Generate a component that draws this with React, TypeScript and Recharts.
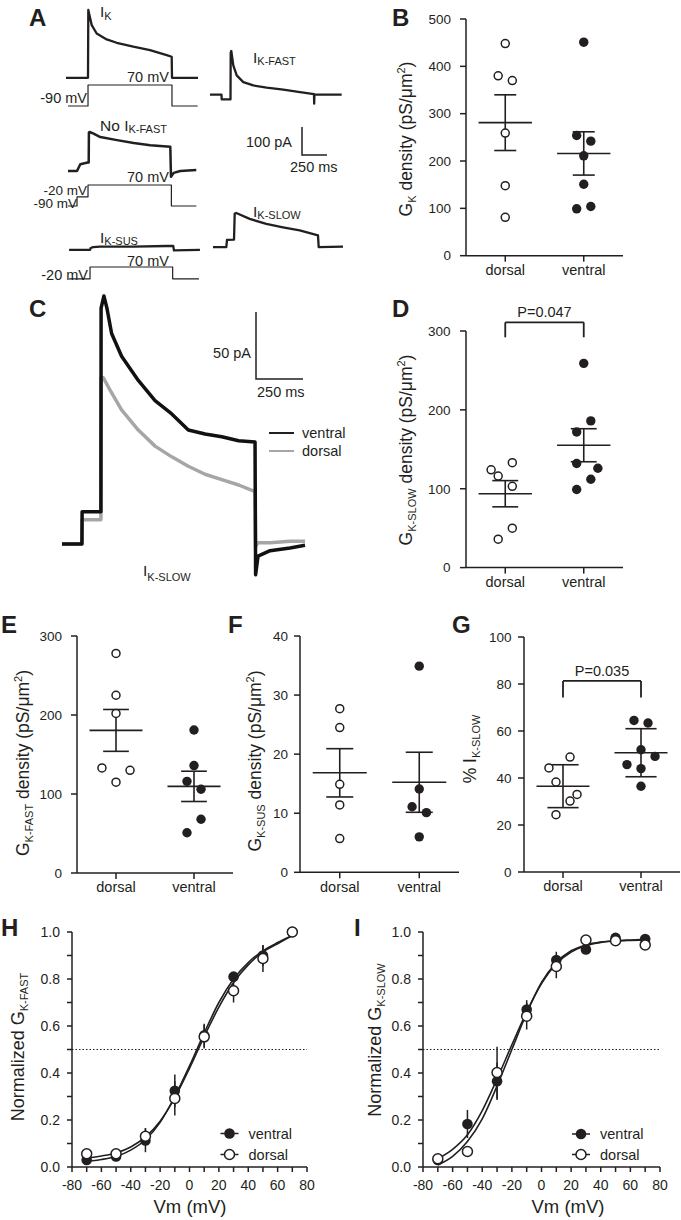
import {
  ComposedChart,
  ScatterChart,
  LineChart,
  Line,
  Scatter,
  XAxis,
  YAxis,
  ReferenceLine,
  ErrorBar,
} from 'recharts'

const FONT = '"Liberation Sans", Arial, Helvetica, sans-serif'
const INK = '#231f20'
const GREY = '#a6a6a6'

const groups = ['dorsal', 'ventral']

// ---------- A: example currents (ms, pA) and command steps (ms, mV)
const ikT = [0, 220, 223, 257, 307, 407, 507, 673, 840, 1007, 1057, 1060, 1320]
const ikI = [0, 0, 242, 188, 158, 137, 125, 111, 99, 81, 75, 0, 0]
const ikStepT = [20, 220, 220, 1060, 1060, 1317]
const ikStepV = [-90, -90, 70, 70, -90, -90]

const fastT = [0, 115, 117, 205, 207, 213, 233, 267, 333, 433, 567, 733, 900, 1040, 1042, 1044, 1317]
const fastI = [0, 0, -17, -17, 150, 156, 105, 69, 45, 33, 25, 18, 9, 2, -32, 0, 0]

const noFastT = [0, 90, 123, 197, 207, 209, 216, 256, 323, 490, 657, 823, 1023, 1030, 1057, 1123, 1283]
const noFastI = [1, 1, 25, 31, 31, 138, 140, 134, 122, 111, 101, 93, 87, -20, -6, 1, 4]
const noFastStepT = [6, 96, 96, 206, 206, 1040, 1040, 1290]
const noFastStepV = [-90, -90, -20, -20, 70, 70, -90, -90]

const susT = [0, 210, 217, 240, 310, 643, 977, 1043, 1050, 1310]
const susI = [0, 0, 7, 10, 12, 12, 14, 14, -2, 0]
const susStepT = [0, 210, 210, 1037, 1037, 1300]
const susStepV = [-20, -20, 70, 70, -20, -20]

const slowT = [0, 133, 140, 210, 217, 233, 367, 533, 700, 867, 1050, 1057, 1300]
const slowI = [0, 0, 26, 27, 120, 122, 101, 83, 71, 60, 42, 0, 2]

// ---------- C: mean I_K-SLOW, ventral vs dorsal (ms, pA)
const cVentralT = [0, 106, 107, 207, 208, 223, 239, 264, 317, 406, 495, 584, 672, 761, 850, 940, 1027, 1030, 1043, 1107, 1213, 1293]
const cVentralI = [0, 0, 24, 24, 176, 185, 176, 157, 140, 122, 107, 97, 85, 82, 80, 77, 76, -23, -9, -5, -3, -1]
const cDorsalT = [0, 106, 107, 207, 208, 220, 255, 317, 406, 495, 584, 672, 761, 850, 940, 1027, 1030, 1043, 1107, 1213, 1293]
const cDorsalI = [0, 0, 18, 18, 124, 124, 115, 100, 85, 73, 65, 58, 52, 48, 44, 39, -2, 1, 1, 2, 2]

// ---------- B, D, E, F, G: single cells (jitter in dot steps)
const gkDorsal = [448, 380, 370, 259, 148, 81]
const gkDorsalJit = [0, -1, 1, 0, 0, 0]
const gkVentral = [451, 254, 242, 211, 151, 99, 104]
const gkVentralJit = [0, -1, 1, 0, 0, -1, 1]
const gkTicks = [0, 100, 200, 300, 400, 500]

const slowDorsal = [133, 124, 116, 103, 50, 36]
const slowDorsalJit = [1, -2, -1, 1, 1, -1]
const slowVentral = [259, 186, 172, 132, 126, 112, 99]
const slowVentralJit = [0, 1, -1, -1, 2, 1, -1]
const slowTicks = [0, 100, 200, 300]

const fastDorsal = [278, 225, 202, 133, 130, 115]
const fastDorsalJit = [0, 0, 0, -2, 2, 0]
const fastVentral = [181, 136, 116, 106, 68, 51]
const fastVentralJit = [0, 0, -1, 1, 1, -1]
const fastTicks = [0, 100, 200, 300]

const susDorsal = [27.7, 24.5, 14.9, 11.4, 5.7]
const susDorsalJit = [0, 0, 0, 0, 0]
const susVentral = [34.9, 14.1, 11.1, 10.1, 6.0]
const susVentralJit = [0, 0, -1, 1, 0]
const susTicks = [0, 10, 20, 30, 40]

const pctDorsal = [48.9, 44.3, 38.3, 33, 30.2, 24.4]
const pctDorsalJit = [1, -2, -1, 2, 1, -1]
const pctVentral = [64.5, 63.4, 52, 49.2, 45.7, 44, 36.5]
const pctVentralJit = [-1, 1, 0, 2, -2, 0, 0]
const pctTicks = [0, 20, 40, 60, 80, 100]

// ---------- H, I: activation curves
const vmSteps = [-70, -50, -30, -10, 10, 30, 50, 70]
const fitVm = [-70, -60, -50, -40, -30, -20, -10, 0, 10, 20, 30, 40, 50, 60, 70]
const vmTicks = [-80, -70, -60, -50, -40, -30, -20, -10, 0, 10, 20, 30, 40, 50, 60, 70, 80]
const gTicks = [0, 0.1, 0.2, 0.3, 0.4, 0.5, 0.6, 0.7, 0.8, 0.9, 1.0]

const hVentral = [0.03, 0.045, 0.113, 0.324, 0.56, 0.81, 0.9, 1.0]
const hVentralErr = [0.008, 0.01, 0.05, 0.07, 0.05, 0.02, 0.045, 0]
const hDorsal = [0.056, 0.056, 0.131, 0.292, 0.554, 0.75, 0.887, 1.0]
const hDorsalErr = [0.008, 0.01, 0.035, 0.073, 0.05, 0.05, 0.057, 0]
const hFitVentral = [0.024, 0.032, 0.045, 0.072, 0.116, 0.19, 0.3, 0.43, 0.57, 0.7, 0.8, 0.87, 0.92, 0.955, 0.985]
const hFitDorsal = [0.038, 0.047, 0.06, 0.085, 0.128, 0.195, 0.295, 0.42, 0.555, 0.68, 0.785, 0.86, 0.915, 0.95, 0.985]

const iVentral = [0.03, 0.183, 0.365, 0.67, 0.881, 0.926, 0.975, 0.97]
const iVentralErr = [0.005, 0.06, 0.08, 0.04, 0.035, 0.015, 0.01, 0.01]
const iDorsal = [0.035, 0.066, 0.402, 0.642, 0.853, 0.966, 0.963, 0.945]
const iDorsalErr = [0.005, 0.01, 0.11, 0.057, 0.05, 0.01, 0.01, 0.01]
const iFitVentral = [0.035, 0.075, 0.137, 0.24, 0.375, 0.52, 0.66, 0.78, 0.865, 0.915, 0.942, 0.956, 0.963, 0.966, 0.968]
const iFitDorsal = [0.008, 0.045, 0.108, 0.205, 0.345, 0.5, 0.655, 0.785, 0.87, 0.92, 0.945, 0.957, 0.962, 0.964, 0.965]

const JIT = 0.09
const MV_PX = 7.62

function summary(vals: number[], spread: 'sem' | 'sd') {
  const m = vals.reduce((a, b) => a + b, 0) / vals.length
  const sd = Math.sqrt(vals.reduce((a, b) => a + (b - m) ** 2, 0) / (vals.length - 1))
  return { m, e: spread === 'sd' ? sd : sd / Math.sqrt(vals.length) }
}

// chart box around a plot rectangle given in page pixels
function frame(plot: number[]) {
  const [x0, y0, x1, y1] = plot
  return {
    style: { position: 'absolute' as const, left: x0 - 60, top: y0 - 40 },
    width: x1 - x0 + 80,
    height: y1 - y0 + 80,
    margin: { top: 40, right: 20, bottom: 10, left: 20 },
  }
}

const openDot = (r: number) => (p: any) =>
  <circle cx={p.cx} cy={p.cy} r={r} fill="#fff" stroke={INK} strokeWidth={1.5} />
const filledDot = (r: number) => (p: any) =>
  <circle cx={p.cx} cy={p.cy} r={r + 0.7} fill={INK} />

type TraceSeries = { t: number[]; v: number[]; color: string; width: number }

function Trace({ x0, y0, msPx, unitPx, series }: { x0: number; y0: number; msPx: number; unitPx: number; series: TraceSeries[] }) {
  const ts = series.flatMap((s) => s.t)
  const vs = series.flatMap((s) => s.v)
  const tMin = Math.min(...ts), tMax = Math.max(...ts)
  const vMin = Math.min(...vs), vMax = Math.max(...vs)
  const left = x0 + tMin / msPx
  const right = x0 + tMax / msPx
  const top = y0 - vMax / unitPx
  const bottom = y0 - vMin / unitPx
  const pad = 4
  return (
    <div style={{ position: 'absolute', left: left - pad, top: top - pad }}>
      <LineChart width={right - left + 2 * pad} height={bottom - top + 2 * pad} margin={{ top: pad, right: pad, bottom: pad, left: pad }}>
        <XAxis type="number" dataKey="t" domain={[tMin, tMax]} hide />
        <YAxis type="number" domain={[vMin, vMax]} hide />
        {series.map((s, i) => (
          <Line
            key={i}
            data={s.t.map((t, k) => ({ t, y: s.v[k] }))}
            dataKey="y"
            type="linear"
            stroke={s.color}
            strokeWidth={s.width}
            strokeLinejoin="round"
            dot={false}
            isAnimationActive={false}
          />
        ))}
      </LineChart>
    </div>
  )
}

// page y of 0 mV when `value` sits at page y `py`
const zeroAt = (value: number, py: number, unitPx: number) => py + value / unitPx

type DotProps = {
  plot: number[]
  ticks: number[]
  dorsal: number[]
  dorsalJit: number[]
  ventral: number[]
  ventralJit: number[]
  spread: 'sem' | 'sd'
  cap: number
  tickGap: number
  pValue?: { text: string; lo: number; hi: number }
}

function DotPanel({ plot, ticks, dorsal, dorsalJit, ventral, ventralJit, spread, cap, tickGap, pValue }: DotProps) {
  const f = frame(plot)
  const stats = [summary(dorsal, spread), summary(ventral, spread)]
  const segs: { x: number; y: number }[][] = []
  stats.forEach((s, i) => {
    const c = i + 1
    segs.push([{ x: c - 0.34, y: s.m }, { x: c + 0.34, y: s.m }])
    segs.push([{ x: c, y: s.m - s.e }, { x: c, y: s.m + s.e }])
    segs.push([{ x: c - cap, y: s.m + s.e }, { x: c + cap, y: s.m + s.e }])
    segs.push([{ x: c - cap, y: s.m - s.e }, { x: c + cap, y: s.m - s.e }])
  })
  return (
    <div style={f.style}>
      <ScatterChart width={f.width} height={f.height} margin={f.margin}>
        <XAxis
          type="number"
          dataKey="x"
          domain={[0.5, 2.5]}
          ticks={[1, 2]}
          tickFormatter={(v: number) => groups[v - 1]}
          stroke={INK}
          strokeWidth={1.5}
          tickSize={6}
          tickMargin={3}
          height={30}
          tick={{ fill: INK, fontSize: 14.5, fontFamily: FONT }}
        />
        <YAxis
          type="number"
          dataKey="y"
          domain={[0, ticks[ticks.length - 1]]}
          ticks={ticks}
          stroke={INK}
          strokeWidth={1.5}
          tickSize={6}
          tickMargin={tickGap}
          width={40}
          tick={{ fill: INK, fontSize: 13.5, fontFamily: FONT }}
        />
        {segs.map((seg, i) => (
          <ReferenceLine key={i} segment={seg} stroke={INK} strokeWidth={1.6} />
        ))}
        {pValue && (
          <ReferenceLine segment={[{ x: 1, y: pValue.lo }, { x: 1, y: pValue.hi }]} stroke={INK} strokeWidth={1.8} ifOverflow="visible" />
        )}
        {pValue && (
          <ReferenceLine
            segment={[{ x: 1, y: pValue.hi }, { x: 2, y: pValue.hi }]}
            stroke={INK}
            strokeWidth={1.8}
            ifOverflow="visible"
            label={{ value: pValue.text, position: 'top', fill: INK, fontSize: 14.5, fontFamily: FONT }}
          />
        )}
        {pValue && (
          <ReferenceLine segment={[{ x: 2, y: pValue.hi }, { x: 2, y: pValue.lo }]} stroke={INK} strokeWidth={1.8} ifOverflow="visible" />
        )}
        <Scatter
          data={dorsal.map((y, i) => ({ x: 1 + dorsalJit[i] * JIT, y }))}
          shape={openDot(4)}
          isAnimationActive={false}
        />
        <Scatter
          data={ventral.map((y, i) => ({ x: 2 + ventralJit[i] * JIT, y }))}
          shape={filledDot(4)}
          isAnimationActive={false}
        />
      </ScatterChart>
    </div>
  )
}

type ActProps = {
  plot: number[]
  ventral: number[]
  ventralErr: number[]
  dorsal: number[]
  dorsalErr: number[]
  fitVentral: number[]
  fitDorsal: number[]
}

function ActivationPanel({ plot, ventral, ventralErr, dorsal, dorsalErr, fitVentral, fitDorsal }: ActProps) {
  const f = frame(plot)
  return (
    <div style={f.style}>
      <ComposedChart width={f.width} height={f.height} margin={f.margin}>
        <XAxis
          type="number"
          dataKey="v"
          domain={[-80, 80]}
          ticks={vmTicks}
          tickFormatter={(v: number) => (v % 20 === 0 ? String(v) : '')}
          stroke={INK}
          strokeWidth={1.5}
          tickSize={5}
          tickMargin={8}
          height={30}
          tick={{ fill: INK, fontSize: 14, fontFamily: FONT }}
        />
        <YAxis
          type="number"
          domain={[0, 1]}
          ticks={gTicks}
          tickFormatter={(v: number) => (Math.round(v * 10) % 2 === 0 ? v.toFixed(1) : '')}
          stroke={INK}
          strokeWidth={1.5}
          tickSize={5}
          tickMargin={7}
          width={40}
          tick={{ fill: INK, fontSize: 14, fontFamily: FONT }}
        />
        <ReferenceLine y={0.5} stroke={INK} strokeWidth={1.2} strokeDasharray="1.5 2" />
        <Line data={fitVm.map((v, i) => ({ v, g: fitVentral[i] }))} dataKey="g" type="monotone" stroke={INK} strokeWidth={1.6} dot={false} isAnimationActive={false} />
        <Line data={fitVm.map((v, i) => ({ v, g: fitDorsal[i] }))} dataKey="g" type="monotone" stroke={INK} strokeWidth={1.6} dot={false} isAnimationActive={false} />
        <Scatter data={vmSteps.map((v, i) => ({ v, g: ventral[i], err: ventralErr[i] }))} dataKey="g" shape={filledDot(4.6)} isAnimationActive={false}>
          <ErrorBar dataKey="err" direction="y" width={0} stroke={INK} strokeWidth={1.5} />
        </Scatter>
        <Scatter data={vmSteps.map((v, i) => ({ v, g: dorsal[i], err: dorsalErr[i] }))} dataKey="g" shape={openDot(5)} isAnimationActive={false}>
          <ErrorBar dataKey="err" direction="y" width={0} stroke={INK} strokeWidth={1.5} />
        </Scatter>
      </ComposedChart>
    </div>
  )
}

function Current({ x, y, sub, pre = '', drop = 2 }: { x: number; y: number; sub: string; pre?: string; drop?: number }) {
  return (
    <text x={x} y={y} fontSize={15.5} fill={INK} fontFamily={FONT}>
      {pre}I<tspan fontSize={11} dy={drop}>{sub}</tspan>
    </text>
  )
}

function YTitle({ x, y, main, sub, tail = '', size = 17.5, sup = false }: { x: number; y: number; main: string; sub: string; tail?: string; size?: number; sup?: boolean }) {
  return (
    <text transform={`translate(${x},${y}) rotate(-90)`} textAnchor="middle" fontSize={size} fill={INK} fontFamily={FONT}>
      {main}
      <tspan fontSize={11} dy={4}>{sub}</tspan>
      <tspan dy={-4}>{tail}</tspan>
      {sup && <tspan fontSize={11} dy={-7}>2</tspan>}
      {sup && <tspan dy={7}>)</tspan>}
    </text>
  )
}

function LegendRow({ x, y, label, open }: { x: number; y: number; label: string; open: boolean }) {
  return (
    <g>
      <line x1={x - 9} x2={x + 9} y1={y} y2={y} stroke={INK} strokeWidth={1.5} />
      {open ? <circle cx={x} cy={y} r={5} fill="#fff" stroke={INK} strokeWidth={1.5} /> : <circle cx={x} cy={y} r={5.3} fill={INK} />}
      <text x={x + 19} y={y + 5} fontSize={14.5} fill={INK} fontFamily={FONT}>{label}</text>
    </g>
  )
}

function Overlay() {
  const t = { fill: INK, fontFamily: FONT }
  const letter = { ...t, fontSize: 24, fontWeight: 700 }
  const small = { ...t, fontSize: 14.5 }
  const step = { ...t, fontSize: 13.5 }
  return (
    <svg width={681} height={1220} style={{ position: 'absolute', left: 0, top: 0, pointerEvents: 'none' }}>
      {/* panel letters */}
      <text x={29} y={26} {...letter}>A</text>
      <text x={392} y={26} {...letter}>B</text>
      <text x={29} y={317} {...letter}>C</text>
      <text x={392} y={317} {...letter}>D</text>
      <text x={1} y={633} {...letter}>E</text>
      <text x={228} y={633} {...letter}>F</text>
      <text x={452} y={633} {...letter}>G</text>
      <text x={1} y={936} {...letter}>H</text>
      <text x={354} y={936} {...letter}>I</text>

      {/* A annotations */}
      <Current x={100} y={17} sub="K" drop={3} />
      <Current x={253} y={63} sub="K-FAST" />
      <Current x={100} y={131} pre="No " sub="K-FAST" />
      <Current x={100} y={243} sub="K-SUS" />
      <Current x={253} y={217} sub="K-SLOW" />
      <text x={127} y={82} {...small}>70 mV</text>
      <text x={87} y={103} textAnchor="end" {...small}>-90 mV</text>
      <text x={127} y={182} {...small}>70 mV</text>
      <text x={87} y={194.5} textAnchor="end" {...step}>-20 mV</text>
      <text x={77} y={207.5} textAnchor="end" {...step}>-90 mV</text>
      <text x={127} y={266} {...small}>70 mV</text>
      <text x={88} y={280} textAnchor="end" {...small}>-20 mV</text>
      <polyline points="302,127 302,155 327,155" fill="none" stroke={INK} strokeWidth={1.5} />
      <text x={292} y={147} textAnchor="end" {...small}>100 pA</text>
      <text x={290} y={172} {...small}>250 ms</text>

      {/* C annotations */}
      <polyline points="256,312 256,379 303,379" fill="none" stroke={INK} strokeWidth={1.5} />
      <text x={251} y={358} textAnchor="end" {...small}>50 pA</text>
      <text x={257} y={397} {...small}>250 ms</text>
      <line x1={269} x2={294} y1={433} y2={433} stroke={INK} strokeWidth={2} />
      <text x={302} y={438} {...small}>ventral</text>
      <line x1={269} x2={294} y1={451} y2={451} stroke={GREY} strokeWidth={2} />
      <text x={302} y={456} {...small}>dorsal</text>
      <Current x={143} y={576} sub="K-SLOW" drop={5} />

      {/* axis titles */}
      <YTitle x={412} y={139} main="G" sub="K" tail=" density (pS/μm" sup />
      <YTitle x={412} y={450} main="G" sub="K-SLOW" tail=" density (pS/μm" sup />
      <YTitle x={29} y={763} main="G" sub="K-FAST" tail=" density (pS/μm" sup />
      <YTitle x={261} y={761} main="G" sub="K-SUS" tail=" density (pS/μm" sup />
      <YTitle x={476} y={749} main="% I" sub="K-SLOW" />
      <YTitle x={24} y={1047} main="Normalized G" sub="K-FAST" size={18} />
      <YTitle x={381} y={1040} main="Normalized G" sub="K-SLOW" size={18} />
      <text x={190} y={1213} textAnchor="middle" fontSize={18.5} {...t}>Vm (mV)</text>
      <text x={568} y={1213} textAnchor="middle" fontSize={18.5} {...t}>Vm (mV)</text>

      {/* H, I legends */}
      <LegendRow x={229.5} y={1133.5} label="ventral" open={false} />
      <LegendRow x={229.5} y={1154.5} label="dorsal" open />
      <LegendRow x={581} y={1134} label="ventral" open={false} />
      <LegendRow x={581} y={1154.5} label="dorsal" open />
    </svg>
  )
}

export default function App() {
  return (
    <div style={{ position: 'absolute', left: 0, top: 0, width: 681, height: 1220, background: '#fff', overflow: 'hidden' }}>
      {/* A */}
      <Trace x0={66} y0={77.7} msPx={10} unitPx={3.57} series={[{ t: ikT, v: ikI, color: INK, width: 2.3 }]} />
      <Trace x0={66} y0={zeroAt(-90, 106, MV_PX)} msPx={10} unitPx={MV_PX} series={[{ t: ikStepT, v: ikStepV, color: INK, width: 1.2 }]} />
      <Trace x0={210} y0={94.3} msPx={10} unitPx={3.57} series={[{ t: fastT, v: fastI, color: INK, width: 2.3 }]} />
      <Trace x0={67.7} y0={171} msPx={10} unitPx={3.57} series={[{ t: noFastT, v: noFastI, color: INK, width: 2.5 }]} />
      <Trace x0={67.7} y0={zeroAt(-90, 206, MV_PX)} msPx={10} unitPx={MV_PX} series={[{ t: noFastStepT, v: noFastStepV, color: INK, width: 1.2 }]} />
      <Trace x0={69} y0={250} msPx={10} unitPx={3.57} series={[{ t: susT, v: susI, color: INK, width: 2.3 }]} />
      <Trace x0={69} y0={zeroAt(-20, 279, MV_PX)} msPx={10} unitPx={MV_PX} series={[{ t: susStepT, v: susStepV, color: INK, width: 1.2 }]} />
      <Trace x0={213.3} y0={247} msPx={10} unitPx={3.57} series={[{ t: slowT, v: slowI, color: INK, width: 2.3 }]} />

      {/* C */}
      <Trace
        x0={62}
        y0={544}
        msPx={5.32}
        unitPx={0.746}
        series={[
          { t: cDorsalT, v: cDorsalI, color: GREY, width: 3.5 },
          { t: cVentralT, v: cVentralI, color: '#111', width: 3.5 },
        ]}
      />

      <DotPanel plot={[466, 19.3, 623, 256]} ticks={gkTicks} dorsal={gkDorsal} dorsalJit={gkDorsalJit} ventral={gkVentral} ventralJit={gkVentralJit} spread="sem" cap={0.14} tickGap={9} />
      <DotPanel
        plot={[466, 330.7, 623, 567.3]}
        ticks={slowTicks}
        dorsal={slowDorsal}
        dorsalJit={slowDorsalJit}
        ventral={slowVentral}
        ventralJit={slowVentralJit}
        spread="sem"
        cap={0.165}
        tickGap={9.5}
        pValue={{ text: 'P=0.047', lo: 292, hi: 311 }}
      />
      <DotPanel plot={[77, 635.7, 233, 872.7]} ticks={fastTicks} dorsal={fastDorsal} dorsalJit={fastDorsalJit} ventral={fastVentral} ventralJit={fastVentralJit} spread="sem" cap={0.165} tickGap={9} />
      <DotPanel plot={[300, 635.7, 459, 872]} ticks={susTicks} dorsal={susDorsal} dorsalJit={susDorsalJit} ventral={susVentral} ventralJit={susVentralJit} spread="sem" cap={0.17} tickGap={6} />
      <DotPanel
        plot={[524, 636.7, 680, 871.7]}
        ticks={pctTicks}
        dorsal={pctDorsal}
        dorsalJit={pctDorsalJit}
        ventral={pctVentral}
        ventralJit={pctVentralJit}
        spread="sd"
        cap={0.2}
        tickGap={6.5}
        pValue={{ text: 'P=0.035', lo: 74.3, hi: 81.3 }}
      />

      <ActivationPanel plot={[72, 932.3, 307, 1167.3]} ventral={hVentral} ventralErr={hVentralErr} dorsal={hDorsal} dorsalErr={hDorsalErr} fitVentral={hFitVentral} fitDorsal={hFitDorsal} />
      <ActivationPanel plot={[423, 932.3, 660, 1167.3]} ventral={iVentral} ventralErr={iVentralErr} dorsal={iDorsal} dorsalErr={iDorsalErr} fitVentral={iFitVentral} fitDorsal={iFitDorsal} />

      <Overlay />
    </div>
  )
}
